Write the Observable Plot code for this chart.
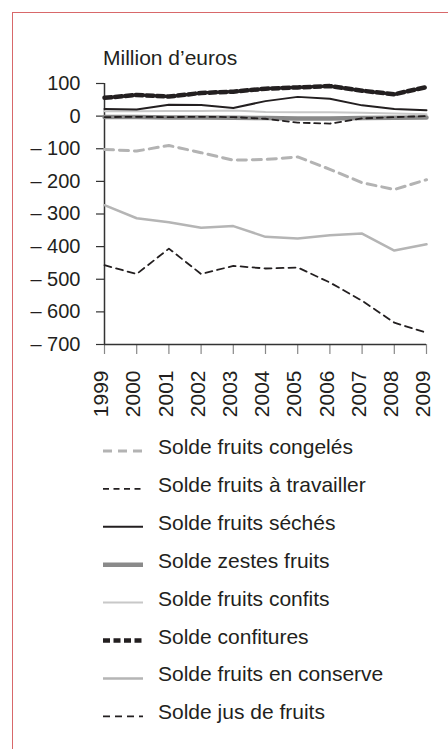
<!DOCTYPE html>
<html><head><meta charset="utf-8">
<script src="https://cdn.jsdelivr.net/npm/d3@7"></script>
<script src="https://cdn.jsdelivr.net/npm/@observablehq/plot@0.6"></script>
<style>
html,body{margin:0;padding:0;background:#fff;overflow:hidden;width:448px;height:749px;}
body{position:relative;font-family:"Liberation Sans",Arial,sans-serif;color:#231f20;}
#frame{position:absolute;left:12px;top:12px;width:600px;height:900px;border:1.5px solid #d8686a;box-sizing:border-box;}
#unit{position:absolute;left:103px;top:47px;font-size:21px;line-height:21px;white-space:nowrap;}
#chart{position:absolute;left:0;top:0;}
#legend{position:absolute;left:0;top:0;}
</style>
</head><body>
<div id="frame"></div>
<div id="chart"></div>
<div id="unit">Million d’euros</div>
<div id="legend"></div>
<script>
const years = [1999, 2000, 2001, 2002, 2003, 2004, 2005, 2006, 2007, 2008, 2009];
const yTicks = [100, 0, -100, -200, -300, -400, -500, -600, -700];
const seriesNames = ["Solde fruits congelés", "Solde fruits à travailler", "Solde fruits séchés", "Solde zestes fruits", "Solde fruits confits", "Solde confitures", "Solde fruits en conserve", "Solde jus de fruits"];
const congeles   = [-102, -107, -90, -112, -135, -133, -125, -163, -204, -225, -195];
const travailler = [-3, -2, -3, -2, -3, -8, -20, -23, -7, -3, 0];
const seches     = [22, 20, 35, 34, 25, 46, 59, 53, 33, 22, 18];
const zestes     = [-3, -3, -4, -4, -5, -6, -7, -7, -6, -5, -4];
const confits    = [15, 15, 16, 16, 17, 13, 12, 12, 10, 8, 6];
const confitures = [56, 65, 60, 71, 75, 84, 88, 92, 78, 67, 89];
const conserve   = [-273, -313, -325, -342, -337, -370, -375, -365, -360, -412, -393];
const jus        = [-457, -484, -406, -484, -459, -467, -464, -510, -566, -633, -664];

const values = [congeles, travailler, seches, zestes, confits, confitures, conserve, jus];
const styles = [
  {stroke: "#b3b3b3", strokeWidth: 3, strokeDasharray: "9,6"},
  {stroke: "#231f20", strokeWidth: 1.8, strokeDasharray: "6,4.5"},
  {stroke: "#231f20", strokeWidth: 2, strokeDasharray: null},
  {stroke: "#8a8a8a", strokeWidth: 4.5, strokeDasharray: null},
  {stroke: "#c8c8c8", strokeWidth: 2, strokeDasharray: null},
  {stroke: "#231f20", strokeWidth: 4.5, strokeDasharray: "7,3.5"},
  {stroke: "#b5b5b5", strokeWidth: 2.5, strokeDasharray: null},
  {stroke: "#231f20", strokeWidth: 1.8, strokeDasharray: "7,5"}
];
const drawOrder = [6, 0, 7, 4, 3, 1, 2, 5];

const fmt = d => d < 0 ? "\u2013 " + Math.abs(d) : String(d);

const lineMarks = drawOrder.map(i => {
  const data = years.map((yr, k) => ({year: yr, value: values[i][k], name: seriesNames[i]}));
  const s = styles[i];
  const o = {x: "year", y: "value", stroke: s.stroke, strokeWidth: s.strokeWidth};
  if (s.strokeDasharray) o.strokeDasharray = s.strokeDasharray;
  return Plot.line(data, o);
});

const chart = Plot.plot({
  width: 448,
  height: 430,
  marginLeft: 104,
  marginRight: 22,
  marginTop: 83,
  marginBottom: 86,
  style: {fontFamily: "'Liberation Sans', Arial, sans-serif", fontSize: "20px", color: "#231f20", background: "transparent"},
  x: {domain: [1999, 2009]},
  y: {domain: [-700, 100]},
  marks: [
    Plot.axisY({ticks: yTicks, tickFormat: () => "", tickSize: 8, stroke: "#333", strokeWidth: 1.2, label: null}),
    Plot.axisX({ticks: years, tickFormat: () => "", tickSize: 10, stroke: "#888", strokeWidth: 1.2, label: null}),
    Plot.text(yTicks, {y: d => d, frameAnchor: "left", text: fmt, textAnchor: "end", dx: -24, fontSize: 20, fill: "#231f20"}),
    Plot.text(years, {x: d => d, frameAnchor: "bottom", text: d => String(d), rotate: -90, textAnchor: "end", lineAnchor: "middle", dy: 26, dx: -3, fontSize: 21, fill: "#231f20"}),
    Plot.ruleX([1999], {stroke: "#333", strokeWidth: 1.5}),
    Plot.ruleY([-700], {stroke: "#333", strokeWidth: 1.5}),
    ...lineMarks
  ]
});
document.getElementById("chart").appendChild(chart);

// legend
const lg = d3.select("#legend").append("svg").attr("width", 448).attr("height", 749)
  .style("font-family", "'Liberation Sans', Arial, sans-serif").style("font-size", "21px");
seriesNames.forEach((name, i) => {
  const base = 454 + i * 37.9;
  const s = styles[i];
  const ln = lg.append("line").attr("x1", 103).attr("x2", 143).attr("y1", base - 3).attr("y2", base - 3)
    .attr("stroke", s.stroke).attr("stroke-width", s.strokeWidth);
  if (s.strokeDasharray) ln.attr("stroke-dasharray", s.strokeDasharray);
  lg.append("text").attr("x", 158).attr("y", base).attr("fill", "#231f20").text(name);
});
</script>
</body></html>
